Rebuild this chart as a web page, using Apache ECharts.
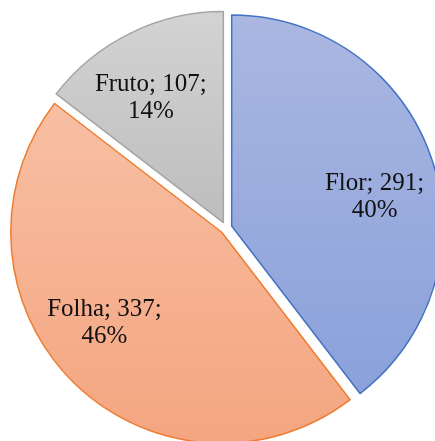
<!DOCTYPE html>
<html>
<head>
<meta charset="utf-8">
<script src="https://cdn.jsdelivr.net/npm/echarts@6/dist/echarts.min.js"></script>
<style>
  html, body { margin: 0; padding: 0; background: #fff; }
  #chart { width: 435px; height: 441px; }
</style>
</head>
<body>
<div id="chart"></div>
<script>
// parts of the plant
const categories = ['Flor', 'Folha', 'Fruto'];
const values = [291, 337, 107];

const fills = [
  ['#aab7e1', '#8aa1da'],
  ['#f8bfa3', '#f4a580'],
  ['#d3d3d3', '#bdbdbd']
];
const borders = ['#4472c4', '#ed7d31', '#a5a5a5'];
// nudge labels to where Excel put them
const labelNudge = [[-2, 20], [-9, -17], [-5, 13]];

const chart = echarts.init(document.getElementById('chart'));

function grad(c) {
  return new echarts.graphic.LinearGradient(0, 0, 0, 1, [
    { offset: 0, color: c[0] },
    { offset: 1, color: c[1] }
  ]);
}

const pieData = categories.map((name, i) => ({
  name: name,
  value: values[i],
  selected: true,
  itemStyle: { color: grad(fills[i]), borderColor: borders[i], borderWidth: 1.5 }
}));

const labelData = categories.map((name, i) => ({
  name: name,
  value: values[i],
  selected: true
}));

let option = {
  animation: false,
  series: [
    {
      type: 'pie',
      center: [226, 228],
      radius: [0, 211],
      startAngle: 90,
      selectedMode: 'multiple',
      selectedOffset: 6,
      percentPrecision: 0,
      label: { show: false },
      labelLine: { show: false },
      emphasis: { disabled: true },
      data: pieData
    },
    {
      type: 'pie',
      silent: true,
      center: [226, 228],
      radius: [89, 211],
      startAngle: 90,
      selectedMode: 'multiple',
      selectedOffset: 6,
      percentPrecision: 0,
      itemStyle: { color: 'rgba(0,0,0,0)', borderWidth: 0 },
      label: {
        show: true,
        position: 'inside',
        formatter: '{b}; {c};\n{d}%',
        fontFamily: 'Liberation Serif',
        fontSize: 25,
        lineHeight: 27,
        color: '#111',
        align: 'center'
      },
      labelLayout: function (p) {
        const n = labelNudge[p.dataIndex];
        return { dx: n[0], dy: n[1] };
      },
      labelLine: { show: false },
      emphasis: { disabled: true },
      data: labelData
    }
  ]
};

option && chart.setOption(option);
</script>
</body>
</html>
